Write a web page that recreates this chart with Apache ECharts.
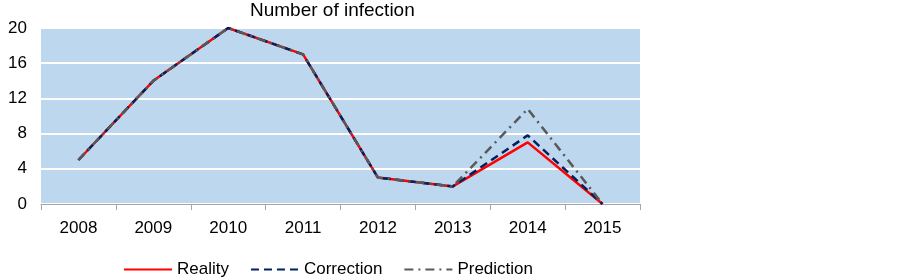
<!DOCTYPE html>
<html>
<head>
<meta charset="utf-8">
<script src="https://cdn.jsdelivr.net/npm/echarts@6/dist/echarts.min.js"></script>
<style>
  html, body { margin: 0; padding: 0; background: #fff; }
  #chart { width: 903px; height: 278px; }
</style>
</head>
<body>
<div id="chart"></div>
<script>
// data
var years = ['2008', '2009', '2010', '2011', '2012', '2013', '2014', '2015'];
var reality = [5, 14, 20, 17, 3, 2, 7, 0];
var correction = [5, 14, 20, 17, 3, 2, 7.8, 0];
var prediction = [5, 14, 20, 17, 3, 2, 10.8, 0];
var yTicks = [0, 4, 8, 12, 16, 20];

var font = 'Liberation Sans, Arial, sans-serif';

var myChart = echarts.init(document.getElementById('chart'));
myChart.setOption({
    animation: false,
    title: {
        text: 'Number of infection',
        left: 245,
        top: -4,
        textStyle: { fontFamily: font, fontSize: 19, fontWeight: 'normal', color: '#000' }
    },
    legend: {
        top: 256,
        left: 118,
        itemWidth: 48,
        itemHeight: 3,
        itemGap: 21,
        itemStyle: { opacity: 0 },
        textStyle: { fontFamily: font, fontSize: 17, color: '#000' },
        data: ['Reality', 'Correction', 'Prediction']
    },
    grid: {
        left: 41, right: 263, top: 28, bottom: 74,
        show: true,
        backgroundColor: '#BDD7EE',
        borderWidth: 0
    },
    xAxis: {
        type: 'category',
        data: years,
        boundaryGap: true,
        axisLine: { lineStyle: { color: '#A6A6A6', width: 1 } },
        axisTick: { show: true, length: 6, lineStyle: { color: '#A6A6A6' } },
        axisLabel: { fontFamily: font, fontSize: 17, color: '#000', margin: 16 }
    },
    yAxis: {
        type: 'value',
        min: yTicks[0],
        max: yTicks[yTicks.length - 1],
        interval: 4,
        axisLine: { show: false },
        axisTick: { show: false },
        axisLabel: { fontFamily: font, fontSize: 17, color: '#000', margin: 14 },
        splitLine: { lineStyle: { color: '#FFFFFF', width: 2 } }
    },
    series: [
        {
            name: 'Reality',
            type: 'line',
            data: reality,
            symbol: 'none',
            z: 2,
            itemStyle: { color: '#FF0000' },
            lineStyle: { color: '#FF0000', width: 2.5 }
        },
        {
            name: 'Correction',
            type: 'line',
            data: correction,
            symbol: 'none',
            z: 3,
            itemStyle: { color: '#002060' },
            lineStyle: { color: '#002060', width: 2.5, type: [8, 5] }
        },
        {
            name: 'Prediction',
            type: 'line',
            data: prediction,
            symbol: 'none',
            z: 4,
            itemStyle: { color: '#595959' },
            lineStyle: { color: '#595959', width: 2.5, type: [9, 5, 2, 5] }
        }
    ]
});
</script>
</body>
</html>
